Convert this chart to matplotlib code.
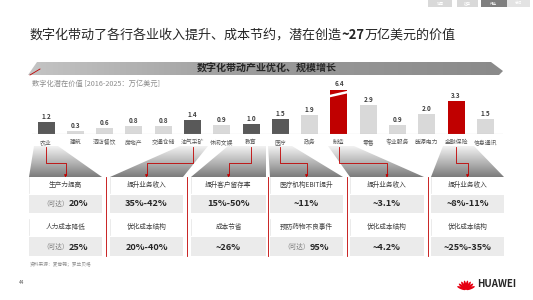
import numpy as np
import matplotlib
matplotlib.use('Agg')
import matplotlib.pyplot as plt
from matplotlib.patches import Polygon, Rectangle, Ellipse
from matplotlib.colors import LinearSegmentedColormap

plt.rcParams['font.family'] = ['Noto Sans CJK SC', 'DejaVu Sans']

# ---- data ----
industries = ['农业', '建筑', '酒店餐饮', '房地产', '交通仓储', '油气采矿', '休闲文娱', '教育',
              '医疗', '政务', '制造', '零售', '专业服务', '能源电力', '金融保险', '信息通讯']
potential = [1.2, 0.3, 0.6, 0.8, 0.8, 1.4, 0.9, 1.0, 1.5, 1.9, 6.4, 2.9, 0.9, 2.0, 3.3, 1.5]
kind = ['dark', 'light', 'light', 'light', 'light', 'dark', 'light', 'dark',
        'dark', 'light', 'red', 'light', 'light', 'light', 'red', 'light']
cap = 4.45  # the 6.4 bar is drawn broken

panel_src = ['农业', '油气采矿', '教育', '医疗', '制造', '金融保险']
head1 = ['生产力提高', '提升业务收入', '提升客户留存率', '医疗机构EBIT提升', '提升业务收入', '提升业务收入']
pre1 = ['（可达）', '', '', '', '', '']
val1 = ['20%', '35%-42%', '15%-50%', '~11%', '~3.1%', '~8%-11%']
head2 = ['人力成本降低', '优化成本结构', '成本节省', '预防药物不良事件', '优化成本结构', '优化成本结构']
pre2 = ['（可达）', '', '', '（可达）', '', '']
val2 = ['25%', '20%-40%', '~26%', '95%', '~4.2%', '~25%-35%']

RED = '#c00000'
colors = {'dark': '#595959', 'light': '#d9d9d9', 'red': RED}

W, H = 533, 300
fig = plt.figure(figsize=(5.33, 3.0), dpi=100)
bg = fig.add_axes([0, 0, 1, 1])
bg.set_xlim(0, W)
bg.set_ylim(H, 0)
bg.axis('off')


def px(x0, y0, w, h):
    return [x0 / W, 1 - (y0 + h) / H, w / W, h / H]


def mixed(x, y, parts, ha='center'):
    # draw pieces of text side by side, measured with the renderer
    r = fig.canvas.get_renderer()
    items = []
    for s, kw in parts:
        t = bg.text(0, y, s, ha='left', va='center', **kw)
        w = t.get_window_extent(r).width
        items.append((t, w))
    total = sum(w for _, w in items)
    cur = x - total / 2 if ha == 'center' else x
    for t, w in items:
        t.set_x(cur)
        cur += w


# ---- top nav tabs ----
for x0, w, c, s in [(428, 24, '#d9d9d9', '背景'), (457, 21, '#d9d9d9', '趋势'),
                    (481, 26, '#7f7f7f', '行业'), (507, 23, '#e3e3e3', '总结')]:
    bg.add_patch(Rectangle((x0, 0), w, 7, color=c, lw=0))
    bg.text(x0 + w / 2, 3.5, s, fontsize=2.6, color='white', ha='center', va='center')

# ---- title ----
mixed(30, 35, [('数字化带动了各行各业收入提升、成本节约，潜在创造', dict(fontsize=9.4, color='#262626')),
               ('~27', dict(fontsize=9.4, color='#262626', fontweight='bold')),
               ('万亿美元的价值', dict(fontsize=9.4, color='#262626'))], ha='left')

# ---- banner ----
ban = Polygon([(28, 75), (37, 62), (491, 62), (503, 71), (499, 75)], closed=True,
              facecolor='none', edgecolor='none')
bg.add_patch(ban)
gcmap = LinearSegmentedColormap.from_list('g', ['#c4c4c4', '#9a9a9a', '#8a8a8a'])
im = bg.imshow(np.linspace(0, 1, 200).reshape(1, -1), cmap=gcmap, aspect='auto',
               extent=(28, 503, 75, 62), origin='upper', zorder=1)
im.set_clip_path(ban)
bg.plot([30, 40], [75, 69], color=RED, lw=0.6, zorder=2)
bg.text(267, 69, '数字化带动产业优化、规模增长', fontsize=7.2, fontweight='bold',
        color='#262626', ha='center', va='center', zorder=3)
bg.text(32, 84, '数字化潜在价值 [2016-2025：万亿美元]', fontsize=5.2, color='#8c8c8c',
        ha='left', va='center')

# ---- bar chart ----
ax = fig.add_axes(px(32, 79, 471, 55))
ax.patch.set_alpha(0)
ax.set_xlim(-0.48, 15.6)
ax.set_ylim(0, 5.5)
ax.axis('off')
x = np.arange(len(industries))
shown = [min(v, cap) for v in potential]
ax.bar(x, shown, width=0.58, color=[colors[k] for k in kind], zorder=2)
ax.axhline(0, color='#a6a6a6', lw=0.8, zorder=3)
for i, (v, s) in enumerate(zip(potential, shown)):
    ax.text(i, s + 0.2, f'{v:.1f}', ha='center', va='bottom', fontsize=4.6,
            fontweight='bold', color='#404040')
    ax.text(i, -0.8, industries[i], ha='center', va='center', fontsize=4.2, color='#595959',
            zorder=5)
mi = industries.index('制造')
ax.plot([mi - 0.38, mi + 0.38], [3.75, 4.25], color='white', lw=1.8, zorder=4,
        solid_capstyle='butt')

# ---- funnels ----
funnels = [[(34, 146), (58, 146), (102, 177), (29, 177)],
           [(180, 146), (208, 146), (183, 177), (110, 177)],
           [(228, 146), (266, 146), (266, 177), (191, 177)],
           [(268, 146), (292, 146), (343, 177), (270, 177)],
           [(328, 146), (354, 146), (424, 177), (350, 177)],
           [(443, 146), (474, 146), (504, 177), (431, 177)]]
fcmap = LinearSegmentedColormap.from_list('f', ['#f2f2f2', '#b8b8b8', '#7c7c7c'])
for pts in funnels:
    p = Polygon(pts, closed=True, facecolor='none', edgecolor='none')
    bg.add_patch(p)
    xs = [q[0] for q in pts]
    im = bg.imshow(np.linspace(0, 1, 100).reshape(-1, 1), cmap=fcmap, aspect='auto',
                   extent=(min(xs), max(xs), 177, 146), origin='upper', zorder=1)
    im.set_clip_path(p)

# ---- panels ----
col_left = [29, 110, 191, 270, 350, 431]
col_w = [73, 73, 75, 73, 74, 73]
to_bg = bg.transData.inverted()
for c in range(6):
    x0, w = col_left[c], col_w[c]
    cx = x0 + w / 2
    bx = to_bg.transform(ax.transData.transform((industries.index(panel_src[c]), 0)))[0]
    bg.plot([bx, bx, cx, cx], [147, 163, 163, 175], color=RED, lw=0.6, zorder=3)
    bg.annotate('', xy=(cx, 177.5), xytext=(cx, 173),
                arrowprops=dict(arrowstyle='-|>', color=RED, lw=0.6, mutation_scale=3.5),
                zorder=3)
    for y0, h, fc in [(177, 16, 'white'), (195, 18, '#ebebeb'),
                      (219, 16, 'white'), (237, 19, '#ebebeb')]:
        bg.add_patch(Rectangle((x0, y0), w, h, facecolor=fc, edgecolor='none', zorder=2))
    bg.plot([x0, x0], [177, 193], color='#e3e3e3', lw=0.5, zorder=3)
    bg.plot([x0, x0], [219, 235], color='#e3e3e3', lw=0.5, zorder=3)
    bg.text(cx, 185, head1[c], fontsize=4.8, color='#404040', ha='center', va='center', zorder=4)
    bg.text(cx, 227, head2[c], fontsize=4.8, color='#404040', ha='center', va='center', zorder=4)
    for y, pre, val in [(204, pre1[c], val1[c]), (247, pre2[c], val2[c])]:
        parts = []
        if pre:
            parts.append((pre, dict(fontsize=4.8, color='#7f7f7f', zorder=4)))
        parts.append((val, dict(fontsize=6.6, fontweight='bold', color='#262626', zorder=4)))
        mixed(cx, y, parts)
    if c > 0:
        sx = (col_left[c - 1] + col_w[c - 1] + x0) / 2
        bg.plot([sx, sx], [177, 256], color=RED, lw=0.6, zorder=3)

# ---- footer ----
bg.text(30, 264, '资料来源：麦肯锡；罗兰贝格', fontsize=3.4, color='#8c8c8c', ha='left', va='center')
bg.text(19, 282, '44', fontsize=3.4, color='#595959', ha='left', va='center')

# huawei logo
base = (466, 290)
for a in np.linspace(-68, 68, 8):
    r = np.radians(a)
    d = 5.0
    ex, ey = base[0] + d * np.sin(r), base[1] - d * np.cos(r)
    bg.add_patch(Ellipse((ex, ey), 2.4, 9.0, angle=a, color='#e60012', lw=0))
bg.text(477, 284, 'HUAWEI', fontsize=7, fontweight='bold', color='#262626',
        ha='left', va='center')

bg.set_xlim(0, W)
bg.set_ylim(H, 0)
fig.savefig('out.png', dpi=100)
